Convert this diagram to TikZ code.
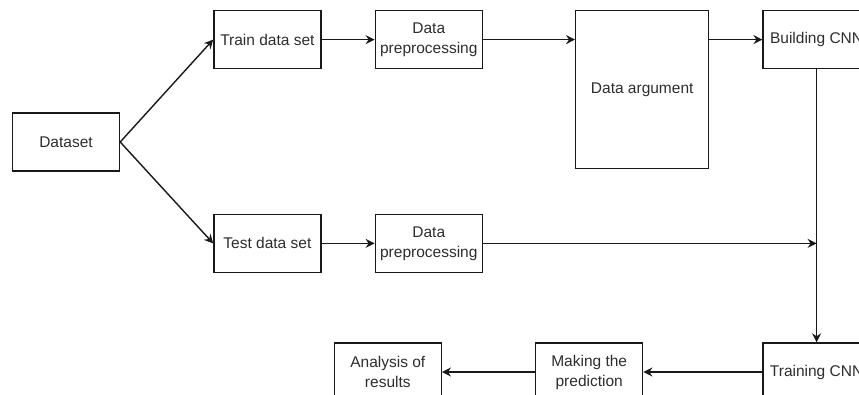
\documentclass[tikz,border=0pt]{standalone}
\usepackage{fontspec}
\setmainfont{Liberation Sans}
\usepackage{xcolor}
\usetikzlibrary{arrows.meta, positioning}
\definecolor{boxtext}{RGB}{45,45,45}

\begin{document}
\begin{tikzpicture}[
    node distance=53pt,
    stage/.style={rectangle, draw=black!90, line width=1.4pt, minimum width=107pt,
                  minimum height=58pt, align=center, text=boxtext,
                  font=\fontsize{15.5}{20}\selectfont},
    tallstage/.style={stage, minimum width=133pt, minimum height=158pt},
    arrow/.style={-{Stealth[length=9pt, width=9pt, inset=3pt]}, line width=1.4pt, draw=black!90}
]

% page frame
\useasboundingbox (0,0) rectangle (859pt,-394pt);

\node[stage] (dataset) at (66pt,-142pt) {Dataset};
\node[stage, above right=43pt and 93pt of dataset] (train) {Train data set};
\node[stage, below right=42pt and 93pt of dataset] (test) {Test data set};

\node[stage, right=of train] (trainprep) {Data\\preprocessing};
\node[stage, right=of test] (testprep) {Data\\preprocessing};

\node[tallstage, below right=0pt and 92pt of trainprep.north east] (argument) {Data argument};
\node[stage, below right=0pt and 53pt of argument.north east] (building) {Building CNN};

\node[stage, below=273pt of building] (training) {Training CNN};
\node[stage, left=119pt of training] (predict) {Making the\\prediction};
\node[stage, left=93pt of predict] (analysis) {Analysis of\\results};

% test branch joins the main line here
\coordinate (merge) at (testprep.east -| building.south);

\draw[arrow] (dataset.east) -- (train.west);
\draw[arrow] (dataset.east) -- (test.west);
\draw[arrow] (train) -- (trainprep);
\draw[arrow] (test) -- (testprep);
\draw[arrow] (trainprep.east) -- (trainprep.east -| argument.west);
\draw[arrow] (building.west -| argument.east) -- (building.west);
\draw[arrow] (testprep.east) -- (merge);
\draw[arrow] (building.south) -- (training.north);
\draw[arrow] (training) -- (predict);
\draw[arrow] (predict) -- (analysis);

\end{tikzpicture}
\end{document}
